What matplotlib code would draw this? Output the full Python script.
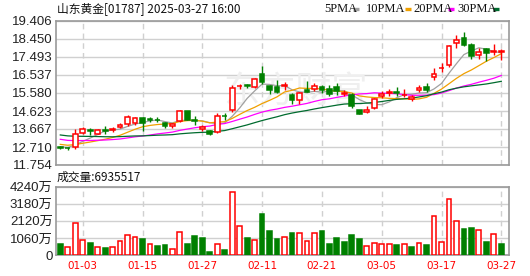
import matplotlib
matplotlib.use('Agg')
import matplotlib.pyplot as plt
import numpy as np

# ---------------- data ----------------
title = "山东黄金[01787] 2025-03-27 16:00"
vol_title = "成交量:6935517"

# closes of the 29 sessions before the window (needed for the moving averages)
prev_close = [14.10, 13.95, 13.80, 13.70, 13.85, 13.90, 13.75, 13.60, 13.70, 13.75,
              13.80, 13.65, 13.55, 13.50, 13.40, 13.30, 13.20, 13.25, 13.15, 13.10,
              13.10, 13.05, 12.95, 12.90, 12.90, 12.80, 12.75, 12.70, 12.68]

open_ = [12.69, 12.67, 12.72, 13.47, 13.60, 13.42, 13.62, 13.62, 13.76, 13.93,
         13.96, 14.24, 14.20, 14.16, 14.00, 13.83, 14.11, 14.62, 14.12, 13.68,
         13.58, 13.52, 14.38, 14.68, 15.93, 15.99, 15.90, 16.57, 15.93, 15.90,
         15.95, 15.46, 15.23, 15.76, 15.81, 15.92, 15.80, 15.88, 15.55, 15.45,
         14.68, 14.55, 14.76, 15.42, 15.58, 15.62, 15.45, 15.24, 15.72, 15.92,
         16.41, 16.90, 17.07, 18.25, 18.49, 18.15, 17.60, 17.90, 17.76, 17.78]
high = [12.74, 12.70, 13.67, 13.77, 13.74, 13.66, 13.80, 13.75, 14.00, 14.40,
        14.30, 14.32, 14.30, 14.30, 14.05, 13.99, 14.66, 14.64, 14.36, 13.88,
        13.60, 14.50, 14.52, 16.02, 16.08, 16.06, 16.40, 17.02, 16.02, 16.29,
        16.15, 15.56, 15.62, 16.20, 16.10, 16.00, 16.00, 16.10, 15.72, 15.60,
        14.68, 14.90, 15.30, 15.68, 15.80, 15.90, 15.80, 15.45, 16.00, 16.10,
        16.89, 17.15, 18.12, 18.66, 18.80, 18.22, 17.96, 17.95, 18.18, 17.90]
low = [12.62, 12.55, 12.60, 13.42, 13.36, 13.40, 13.40, 13.50, 13.72, 13.80,
       13.86, 13.56, 14.02, 14.02, 13.72, 13.74, 14.06, 14.12, 13.88, 13.55,
       13.36, 13.44, 14.16, 14.55, 15.78, 15.82, 15.82, 16.05, 15.55, 15.56,
       15.75, 15.01, 15.01, 15.62, 15.66, 15.60, 15.42, 15.50, 15.40, 14.76,
       14.45, 14.52, 14.72, 15.30, 15.44, 15.42, 15.35, 15.18, 15.65, 15.65,
       16.27, 16.70, 16.95, 17.99, 18.10, 17.40, 17.40, 17.30, 17.60, 17.33]
close = [12.67, 12.64, 13.40, 13.65, 13.56, 13.62, 13.58, 13.66, 13.88, 14.28,
         14.26, 13.96, 14.12, 14.13, 13.82, 13.92, 14.62, 14.14, 14.08, 13.76,
         13.40, 14.36, 14.34, 15.85, 15.97, 15.95, 16.34, 16.16, 15.76, 15.63,
         15.99, 15.23, 15.58, 15.63, 15.93, 15.74, 15.55, 15.68, 15.58, 14.88,
         14.47, 14.68, 15.24, 15.52, 15.62, 15.58, 15.48, 15.36, 15.85, 15.72,
         16.57, 16.93, 18.08, 18.40, 18.13, 17.52, 17.78, 17.69, 17.80, 17.80]
# volume in units of 万 (10k shares)
volume = [673, 469, 1998, 958, 734, 469, 428, 469, 897, 1264,
          1142, 978, 652, 550, 612, 347, 1447, 673, 1162, 1040,
          183, 652, 306, 3914, 1814, 1040, 958, 2568, 1468, 978,
          1142, 1345, 1386, 897, 1386, 1468, 673, 1040, 795, 1223,
          978, 530, 775, 652, 652, 612, 652, 489, 775, 612,
          2426, 836, 3465, 2120, 1590, 1651, 1570, 795, 1325, 694]
# volume bar colour as drawn: 1 = up (red), 0 = down (green)
vol_up = [0, 1, 1, 1, 0, 1, 0, 1, 1, 1,
          1, 0, 1, 0, 0, 1, 1, 0, 0, 0,
          0, 1, 0, 1, 1, 0, 1, 0, 0, 0,
          1, 0, 1, 1, 1, 0, 0, 0, 0, 0,
          0, 1, 1, 1, 1, 0, 1, 0, 1, 0,
          1, 1, 1, 1, 0, 0, 1, 0, 1, 0]

xtick_idx = [3, 11, 19, 27, 35, 43, 51, 59]
xtick_labels = ["01-03", "01-15", "01-27", "02-11", "02-21", "03-05", "03-17", "03-27"]
price_ticks = [11.754, 12.710, 13.667, 14.623, 15.580, 16.537, 17.493, 18.450, 19.406]
vol_ticks = [0, 1060, 2120, 3180, 4240]
vol_tick_labels = ["0", "1060万", "2120万", "3180万", "4240万"]
ma_periods = [5, 10, 20, 30]
ma_names = ["5PMA", "10PMA", "20PMA", "30PMA"]
ma_colors = ["#a0a0a0", "#f0a000", "#ff00ff", "#006b2e"]

# ---------------- drawing ----------------
W, H = 530, 276
RED = "#ff0000"
GREEN = "#008000"
GRID = "#d0d0d0"
FRAME = "#999999"
CJK = ['Noto Sans CJK SC', 'DejaVu Sans']

fig = plt.figure(figsize=(W / 100, H / 100), dpi=100)
fig.patch.set_facecolor('white')

def rect(l, t, r, b):
    return [l / W, 1 - b / H, (r - l) / W, (b - t) / H]

axp = fig.add_axes(rect(55.5, 21, 509, 165))
axv = fig.add_axes(rect(55.5, 186.7, 509, 255))

n = len(close)
x = np.arange(n)
allc = np.array(prev_close + close)
off = len(prev_close)

for ax in (axp, axv):
    ax.set_xlim(-0.64, n + 0.03)
    ax.set_xticks(xtick_idx)
    for s in ax.spines.values():
        s.set_color(FRAME)
        s.set_linewidth(1.2)
    ax.tick_params(length=0)
    ax.set_axisbelow(True)
    ax.grid(axis='y', color=GRID, linewidth=1.0, linestyle='-')
    ax.grid(axis='x', color=GRID, linewidth=1.0, linestyle=(0, (4, 3)))

# watermark
axp.text(0.53, 0.50, "东方财富", transform=axp.transAxes, fontsize=26,
         color='#efefef', ha='center', va='center', family=CJK, zorder=1)

# moving averages
for p, c in zip(ma_periods, ma_colors):
    vals = [allc[off + i - p + 1: off + i + 1].mean() for i in range(n)]
    axp.plot(x, vals, color=c, linewidth=0.9, zorder=2)

# candles
bw = 0.64
for i in range(n):
    o, h, l, c = open_[i], high[i], low[i], close[i]
    up = c >= o
    col = RED if up else GREEN
    axp.vlines(i, l, h, color=col, linewidth=1.0, zorder=3)
    axp.bar(i, max(abs(c - o), 0.001), bottom=min(o, c), width=bw,
            facecolor='white' if up else GREEN, edgecolor=col,
            linewidth=1.1, zorder=4)

axp.set_ylim(price_ticks[0], price_ticks[-1])
axp.set_yticks(price_ticks)
axp.set_yticklabels([f"{t:.3f}" for t in price_ticks], family='Liberation Sans',
                    fontsize=9.5, color='#222222')
axp.tick_params(axis='y', pad=2)
axp.set_xticklabels([])

# volume
for i in range(n):
    up = vol_up[i] == 1
    col = RED if up else GREEN
    axv.bar(i, volume[i], width=bw, facecolor='white' if up else GREEN,
            edgecolor=col, linewidth=1.1, zorder=3)
axv.set_ylim(0, vol_ticks[-1])
axv.set_yticks(vol_ticks)
axv.set_yticklabels(vol_tick_labels, family=['Liberation Sans', 'Noto Sans CJK SC'],
                    fontsize=9.5, color='#222222')
axv.tick_params(axis='y', pad=2)
axv.set_xticklabels(xtick_labels, family='DejaVu Sans', fontsize=7.5, color=RED)
axv.tick_params(axis='x', pad=4)

# texts
fig.text(57 / W, 1 - 9 / H, title, family=CJK, fontsize=8.5, ha='left', va='center',
         color='#111111')
fig.text(57 / W, 1 - 177.5 / H, vol_title, family=CJK, fontsize=8.5, ha='left',
         va='center', color='#111111')

leg_pos = [(324, 353), (366, 405), (413, 448), (457, 493)]
for (tx, dx), name, c in zip(leg_pos, ma_names, ma_colors):
    fig.text(tx / W, 1 - 9.5 / H, name, family='Liberation Serif', fontsize=9,
             ha='left', va='center', color='#111111')
    fig.lines.append(plt.Line2D([dx / W, (dx + 6) / W], [1 - 9 / H, 1 - 9 / H],
                                transform=fig.transFigure, color=c, linewidth=2.4,
                                solid_capstyle='butt'))

fig.savefig('out.png', dpi=100, facecolor='white')
